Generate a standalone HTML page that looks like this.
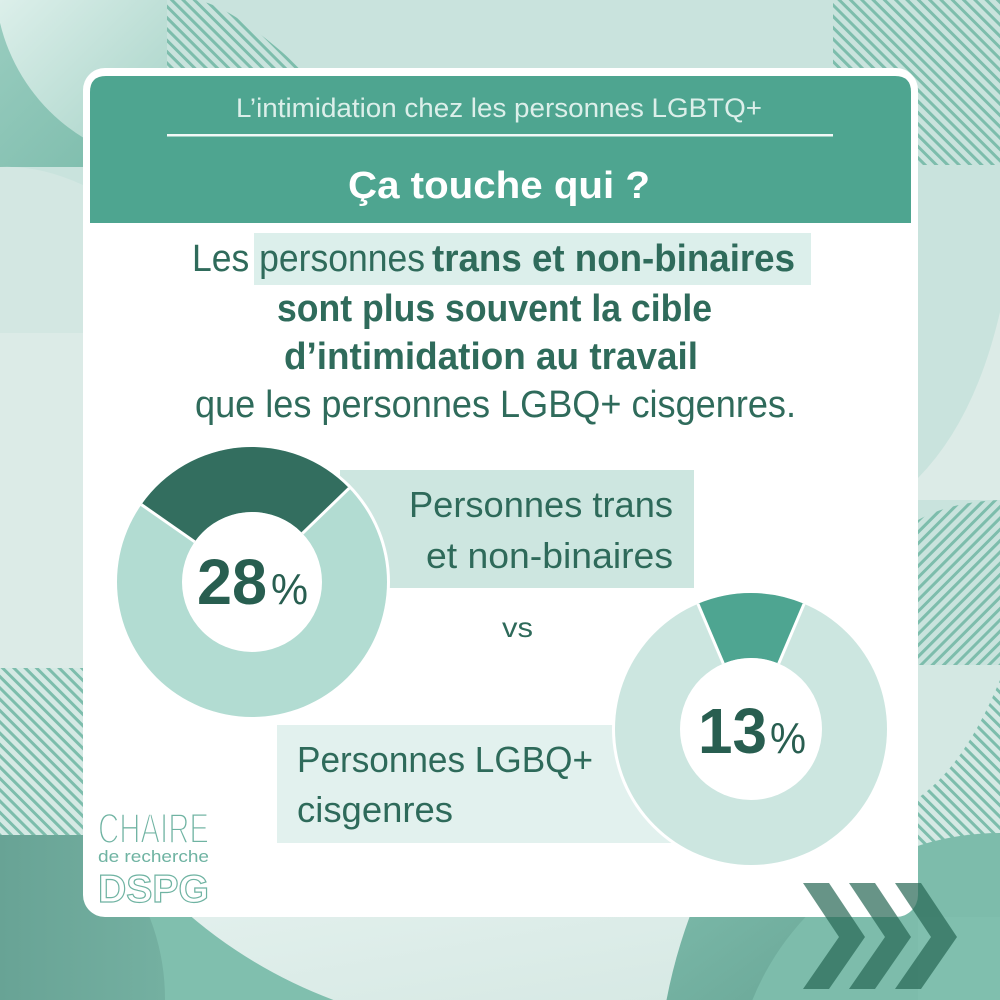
<!DOCTYPE html>
<html><head><meta charset="utf-8"><style>html,body{margin:0;padding:0;background:#c9e3dd;width:1000px;height:1000px;overflow:hidden}svg{display:block}</style></head>
<body>
<svg width="1000" height="1000" viewBox="0 0 1000 1000" xmlns="http://www.w3.org/2000/svg" font-family="'Liberation Sans', sans-serif">
<defs>
<pattern id="hb" width="8" height="8" patternUnits="userSpaceOnUse" patternTransform="rotate(-45)"><rect width="8" height="8" fill="#c9e3dd"/><rect width="3" height="8" fill="#7dbdac"/></pattern>
<pattern id="hb2" width="8" height="8" patternUnits="userSpaceOnUse" patternTransform="rotate(-45)"><rect width="8" height="8" fill="#d5e9e4"/><rect width="3" height="8" fill="#7dbdac"/></pattern>
<pattern id="hf" width="8" height="8" patternUnits="userSpaceOnUse" patternTransform="rotate(45)"><rect width="8" height="8" fill="#c9e3dd"/><rect width="3" height="8" fill="#7dbdac"/></pattern>
<linearGradient id="gtl" x1="0" y1="0" x2="1" y2="1"><stop offset="0" stop-color="#9acdc0"/><stop offset="1" stop-color="#79baa9"/></linearGradient>
<linearGradient id="gtl2" x1="0" y1="0" x2="1" y2="1"><stop offset="0" stop-color="#dcefea"/><stop offset="1" stop-color="#a3d1c5"/></linearGradient>
<linearGradient id="gbl" x1="0" y1="0" x2="1" y2="0"><stop offset="0" stop-color="#68a395"/><stop offset="1" stop-color="#74b0a1"/></linearGradient>
<linearGradient id="gbc" x1="0" y1="0" x2="1" y2="1"><stop offset="0" stop-color="#e4f1ee"/><stop offset="1" stop-color="#d5e8e3"/></linearGradient>
<linearGradient id="gbr" x1="0" y1="0" x2="1" y2="1"><stop offset="0" stop-color="#7cbaaa"/><stop offset="1" stop-color="#6aa797"/></linearGradient>
</defs>
<!-- background -->
<rect width="1000" height="1000" fill="#c9e3dd"/>
<!-- top-left -->
<rect x="0" y="0" width="167" height="167" fill="url(#gtl)"/>
<path d="M0,0 L167,0 L167,164.5 A185,185 0 0 1 0,22.7 Z" fill="url(#gtl2)"/>
<path d="M167,0 L195,0 Q230,4 300,68 L167,68 Z" fill="url(#hb)"/>
<!-- left column -->
<path d="M0,167 Q40,165 83,185 L83,335 L0,335 Z" fill="#d3e7e2"/>
<rect x="0" y="333" width="90" height="336" fill="#dcebe7"/>
<!-- bottom -->
<rect x="0" y="835" width="1000" height="165" fill="#80bfae"/>
<path d="M152.7,880 L847.3,880 A477,477 0 0 1 666.5,1000 L333.5,1000 A477,477 0 0 1 152.7,880 Z" fill="url(#gbc)"/>
<path d="M704.7,880 L832,880 L832,1000 L666.5,1000 A531,531 0 0 1 704.7,880 Z" fill="url(#gbr)"/>
<rect x="0" y="835" width="170" height="165" fill="#80bfae"/>
<path d="M0,782.1 A225,225 0 0 1 165,1000 L0,1000 Z" fill="url(#gbl)"/>
<rect x="0" y="668" width="83" height="167" fill="url(#hb2)"/>
<rect x="832" y="880" width="168" height="120" fill="#80bfae"/>
<!-- right column -->
<path d="M833,0 L1000,0 L1000,165 L863,165 Q833,165 833,135 Z" fill="url(#hb)"/>
<path d="M918,478 Q975,420 1000,312 L1000,500 L918,500 Z" fill="#dcebe7"/>
<path d="M918,520 Q950,502 1000,500 L1000,665 L918,665 Z" fill="url(#hf)"/>
<rect x="918" y="665" width="82" height="180" fill="#d4e8e3"/>
<path d="M1000,680 Q965,765 918,798 L918,850 L1000,835 Z" fill="url(#hb2)"/>
<path d="M752.4,1000 A267,267 0 0 1 1000,833 L1000,1000 Z" fill="#7dbcab"/>
<rect x="918" y="917" width="82" height="83" fill="#80bfae"/>

<!-- card -->
<rect x="83" y="68" width="835" height="849" rx="22" fill="#ffffff"/>
<path d="M90,223 L90,92 Q90,76 106,76 L895,76 Q911,76 911,92 L911,223 Z" fill="#4ea590"/>
<text x="236" y="117" font-size="27" fill="#dcefea" textLength="526" lengthAdjust="spacingAndGlyphs">L’intimidation chez les personnes LGBTQ+</text>
<rect x="167" y="134" width="666" height="2.5" fill="#f2f9f7"/>
<text x="348" y="198" font-size="38" font-weight="bold" fill="#ffffff" textLength="302" lengthAdjust="spacingAndGlyphs">Ça touche qui ?</text>

<!-- body text -->
<rect x="254" y="233" width="557" height="52" fill="#dcefeb"/>
<g fill="#2f6b5b" font-size="38">
<text x="192" y="271" textLength="233" lengthAdjust="spacingAndGlyphs">Les personnes</text>
<text x="432" y="271" font-weight="bold" textLength="363" lengthAdjust="spacingAndGlyphs">trans et non-binaires</text>
<text x="277" y="321" font-weight="bold" textLength="435" lengthAdjust="spacingAndGlyphs">sont plus souvent la cible</text>
<text x="284" y="369" font-weight="bold" textLength="414" lengthAdjust="spacingAndGlyphs">d’intimidation au travail</text>
<text x="195" y="417" textLength="601" lengthAdjust="spacingAndGlyphs">que les personnes LGBQ+ cisgenres.</text>
</g>

<!-- label boxes -->
<rect x="340" y="470" width="354" height="118" fill="#cde6e0"/>
<rect x="277" y="725" width="423" height="118" fill="#e2f1ee"/>

<!-- donut 1 -->
<circle cx="252" cy="582" r="138" fill="#ffffff"/>
<circle cx="252" cy="582" r="135" fill="#b2dcd2"/>
<path d="M141.4,504.6 A135,135 0 0 1 349.1,488.2 L302.4,533.4 A70,70 0 0 0 194.7,541.8 Z" fill="#336e5f"/>
<circle cx="252" cy="582" r="70" fill="#ffffff"/>
<line x1="141.4" y1="504.6" x2="194.7" y2="541.8" stroke="#ffffff" stroke-width="3"/>
<line x1="349.1" y1="488.2" x2="302.4" y2="533.4" stroke="#ffffff" stroke-width="3"/>

<!-- donut 2 -->
<circle cx="751" cy="729" r="139" fill="#ffffff"/>
<circle cx="751" cy="729" r="136" fill="#cce6e0"/>
<path d="M697.9,603.8 A136,136 0 0 1 804.1,603.8 L778.7,663.6 A71,71 0 0 0 723.3,663.6 Z" fill="#4ea591"/>
<circle cx="751" cy="729" r="71" fill="#ffffff"/>
<line x1="697.9" y1="603.8" x2="723.3" y2="663.6" stroke="#ffffff" stroke-width="3"/>
<line x1="804.1" y1="603.8" x2="778.7" y2="663.6" stroke="#ffffff" stroke-width="3"/>

<!-- labels -->
<g fill="#2e6a5a" font-size="36">
<text x="409" y="517" textLength="264" lengthAdjust="spacingAndGlyphs">Personnes trans</text>
<text x="426" y="568" textLength="247" lengthAdjust="spacingAndGlyphs">et non-binaires</text>
<text x="297" y="772" textLength="296" lengthAdjust="spacingAndGlyphs">Personnes LGBQ+</text>
<text x="297" y="822" textLength="156" lengthAdjust="spacingAndGlyphs">cisgenres</text>
<text x="502" y="637" font-size="28" textLength="31" lengthAdjust="spacingAndGlyphs">vs</text>
</g>

<!-- percentages -->
<g fill="#285e50">
<text x="197" y="604" font-size="64" font-weight="bold" textLength="70" lengthAdjust="spacingAndGlyphs">28</text>
<text x="271" y="604" font-size="44" textLength="37" lengthAdjust="spacingAndGlyphs">%</text>
<text x="698" y="753" font-size="64" font-weight="bold" textLength="69" lengthAdjust="spacingAndGlyphs">13</text>
<text x="770" y="753" font-size="44" textLength="36" lengthAdjust="spacingAndGlyphs">%</text>
</g>

<!-- logo -->
<text x="98" y="843" font-size="43" textLength="111" lengthAdjust="spacingAndGlyphs" fill="#6fb3a2" stroke="#ffffff" stroke-width="2">CHAIRE</text>
<text x="98" y="862" font-size="17" textLength="111" lengthAdjust="spacingAndGlyphs" fill="#6fb3a2">de recherche</text>
<text x="98" y="902" font-size="39" font-weight="bold" textLength="111" lengthAdjust="spacingAndGlyphs" fill="none" stroke="#6fb3a2" stroke-width="1.2">DSPG</text>

<!-- chevrons -->
<g fill="rgb(38,103,84)" fill-opacity="0.7">
<polygon points="803,883 829,883 865,937 829,989 803,989 839,937"/>
<polygon points="849,883 875,883 911,937 875,989 849,989 885,937"/>
<polygon points="895,883 921,883 957,937 921,989 895,989 931,937"/>
</g>
</svg>
</body></html>
